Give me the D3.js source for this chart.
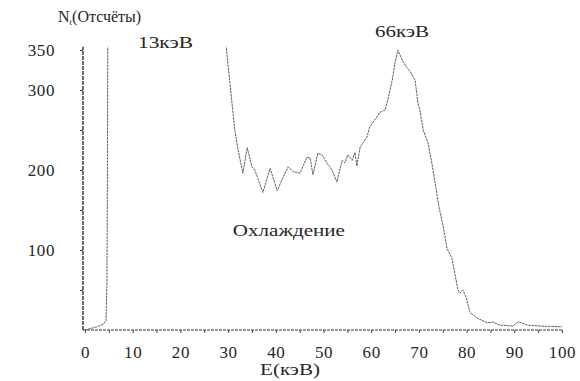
<!DOCTYPE html>
<html>
<head>
<meta charset="utf-8">
<script src="https://cdn.jsdelivr.net/npm/d3@7/dist/d3.min.js"></script>
<style>
  html, body { margin: 0; padding: 0; background: #fff; }
  svg { display: block; }
  svg text { font-family: "Liberation Serif", "Times New Roman", "DejaVu Serif", serif !important; fill: #262626; }
</style>
</head>
<body>
<svg id="chart" width="580" height="381"></svg>
<script>
// ---- data ----
const energy = [0, 2.5, 3.8, 4.4, 4.6, 4.7, 4.8, 29.3, 29.6, 31.4, 32.1, 33.1, 34.0, 35.0, 35.6, 37.3, 38.8, 40.3, 41.3, 42.6, 43.6, 45.1, 46.5, 47.2, 47.8, 48.8, 49.7, 50.7, 51.8, 52.8, 53.9, 54.5, 55.1, 56.0, 56.6, 57.0, 57.7, 58.3, 59.1, 59.7, 60.4, 61.2, 61.8, 62.9, 63.5, 64.4, 65.0, 65.6, 66.7, 67.5, 68.3, 69.2, 69.8, 70.2, 70.9, 71.9, 72.7, 73.4, 74.2, 75.1, 75.9, 76.9, 78.2, 78.6, 79.2, 79.9, 80.7, 82.2, 84.3, 85.5, 87.0, 89.7, 90.8, 91.6, 92.7, 95.4, 100];
const counts = [0, 4, 7, 12, 60, 200, 420, 420, 354, 250, 225, 196, 228, 204, 200, 172, 202, 174, 188, 204, 198, 196, 216, 215, 194, 221, 219, 209, 200, 185, 212, 209, 219, 212, 222, 205, 229, 234, 241, 254, 260, 266, 272, 275, 288, 312, 334, 350, 335, 328, 322, 312, 284, 275, 250, 234, 209, 184, 154, 129, 102, 90, 50, 46, 50, 41, 22, 15, 9, 10, 6, 5, 10, 9, 6, 5, 4];
const xTickValues = [0, 5, 10, 15, 20, 25, 30, 35, 40, 45, 50, 55, 60, 65, 70, 75, 80, 85, 90, 95, 100];
const xTickLabels = [0, 10, 20, 30, 40, 50, 60, 70, 80, 90, 100];
const yTickValues = [50, 100, 150, 200, 250, 300, 350];
const yTickLabels = [100, 200, 300, 350];
const annotations = [
  { text: "13кэВ", e: 11.1, c: 353 },
  { text: "66кэВ", e: 60.8, c: 366 },
  { text: "Охлаждение", e: 31.0, c: 118 }
];

const svg = d3.select("#chart");
const x = d3.scaleLinear().domain([0, 100]).range([85, 562]);
const y = d3.scaleLinear().domain([0, 350]).range([330, 50]);

// clip so the off-scale parts of the spectrum disappear above the frame
svg.append("defs").append("clipPath").attr("id", "plotclip")
  .append("rect").attr("x", 80).attr("y", y(354)).attr("width", 490).attr("height", 300);

// x axis
const xAxis = d3.axisBottom(x).tickValues(xTickValues).tickSize(3)
  .tickFormat(d => xTickLabels.includes(d) ? d : "");
const gx = svg.append("g").attr("transform", `translate(0,${y(0)})`).call(xAxis);
gx.select(".domain").attr("stroke", "#333").attr("stroke-width", 1.1)
  .attr("stroke-dasharray", "3,1").attr("d", `M83,0H${x(100) + 1}`);
gx.selectAll(".tick line").attr("stroke", "#444");
gx.selectAll(".tick text").attr("y", 28).attr("dy", 0).attr("font-size", 17)
  .attr("letter-spacing", 0.6);

// y axis
const yAxis = d3.axisLeft(y).tickValues(yTickValues).tickSize(3).tickPadding(25)
  .tickFormat(d => yTickLabels.includes(d) ? d : "");
const gy = svg.append("g").attr("transform", "translate(83,0)").call(yAxis);
gy.select(".domain").attr("stroke", "#222").attr("stroke-width", 1.3)
  .attr("stroke-dasharray", "4,1").attr("d", `M0,${y(0)}V${y(354)}`);
gy.selectAll(".tick line").attr("stroke", "#444");
gy.selectAll(".tick text").attr("font-size", 17).attr("letter-spacing", 0.6).attr("dy", "0.32em");

// spectrum line
const pts = energy.map((e, i) => [e, counts[i]]);
const line = d3.line().x(d => x(d[0])).y(d => y(d[1]));
svg.append("path").datum(pts)
  .attr("clip-path", "url(#plotclip)")
  .attr("d", line)
  .attr("fill", "none")
  .attr("stroke", "#4a4a4a")
  .attr("stroke-width", 0.9)
  .attr("stroke-dasharray", "2.5,0.8")
  .attr("stroke-linejoin", "round");

// y-axis title
const yt = svg.append("text").attr("x", 58).attr("y", 22).attr("font-size", 16);
yt.append("tspan").text("N");
yt.append("tspan").text("t").attr("font-size", 9).attr("dy", 3);
yt.append("tspan").text("(Отсчёты)").attr("dy", -3);

// x-axis title
svg.append("text").attr("x", 290).attr("y", 375).attr("text-anchor", "middle")
  .attr("font-size", 16).attr("textLength", 60).attr("lengthAdjust", "spacingAndGlyphs")
  .text("E(кэВ)");

// annotations
const widths = { "13кэВ": 55, "66кэВ": 54, "Охлаждение": 112 };
svg.selectAll("text.ann").data(annotations).join("text").attr("class", "ann")
  .attr("x", d => x(d.e)).attr("y", d => y(d.c))
  .attr("font-size", 16)
  .attr("textLength", d => widths[d.text]).attr("lengthAdjust", "spacingAndGlyphs")
  .text(d => d.text);
</script>
</body>
</html>
